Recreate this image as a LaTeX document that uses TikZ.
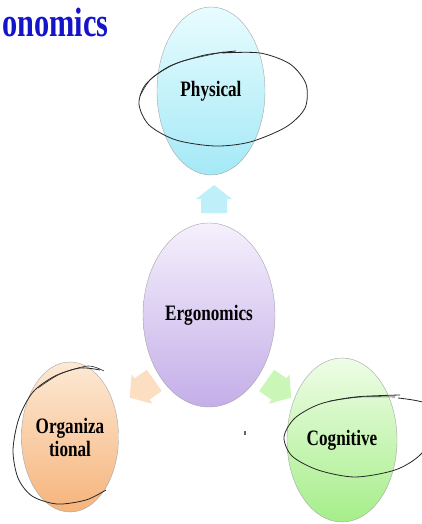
\documentclass[tikz,border=0pt]{standalone}
\usepackage{fontspec}
\setmainfont{Liberation Serif}
\usepackage{tikz}
\usetikzlibrary{shapes.geometric}

\definecolor{titleblue}{HTML}{1414C8}
\definecolor{physTop}{HTML}{E8FCFF}
\definecolor{physBot}{HTML}{A4E9F6}
\definecolor{ergoTop}{HTML}{F5F0FD}
\definecolor{ergoBot}{HTML}{C4AEE8}
\definecolor{orgTop}{HTML}{FDE9D4}
\definecolor{orgBot}{HTML}{F6B47C}
\definecolor{cogTop}{HTML}{EEFDE6}
\definecolor{cogBot}{HTML}{A6EE8A}

\tikzset{
  bubble/.style={ellipse, draw=gray!70, line width=0.4pt, inner sep=0pt,
    font=\bfseries\fontsize{22}{25}\selectfont, align=center},
  scribble/.style={draw=black!85, line width=0.8pt},
}

\begin{document}
\begin{tikzpicture}[x=1pt, y=-1pt]
    \clip (0,0) rectangle (422,524);
    \fill[white] (0,0) rectangle (422,524);

    % heading
    \node[anchor=base west, inner sep=0pt, text=titleblue,
      font=\bfseries\fontsize{41}{44}\selectfont] (title) at (2,37)
      {\scalebox{0.74}[1]{onomics}};

    % arrows from the centre
    \fill[physBot!70, shift={(214,199)}] (0,-14) -- (18,0) -- (13,0) -- (13,14) -- (-13,14) -- (-13,0) -- (-18,0) -- cycle;
    \fill[orgTop!80!orgBot, shift={(142,389)}, rotate=125] (0,-15) -- (18,0) -- (13,0) -- (13,15) -- (-13,15) -- (-13,0) -- (-18,0) -- cycle;
    \fill[cogTop!50!cogBot, shift={(279,389)}, rotate=-125] (0,-15) -- (18,0) -- (13,0) -- (13,15) -- (-13,15) -- (-13,0) -- (-18,0) -- cycle;

    % the four areas
    \node[bubble, top color=physTop, bottom color=physBot,
      minimum width=108pt, minimum height=168pt] (phys) at (211,91)
      {\scalebox{0.78}[1]{Physical}};
    \node[bubble, top color=ergoTop, bottom color=ergoBot,
      minimum width=132pt, minimum height=184pt] (ergo) at (209,315)
      {\scalebox{0.78}[1]{Ergonomics}};
    \node[bubble, top color=orgTop, bottom color=orgBot,
      minimum width=94pt, minimum height=150pt] (org) at (70,437)
      {\scalebox{0.78}[1]{Organiza}\\[-2pt]\scalebox{0.78}[1]{tional}};
    \node[bubble, top color=cogTop, bottom color=cogBot,
      minimum width=110pt, minimum height=164pt] (cog) at (342,440)
      {\scalebox{0.78}[1]{Cognitive}};

    \fill[black!60] (244,431) rectangle (245.5,435);

    % hand drawn loops
    \draw[scribble] plot[smooth] coordinates {(222,53) (260,53) (290,64) (306,84) (305,108)
      (286,127) (250,142) (215,146) (176,140) (149,125) (139,104) (146,84) (170,66) (205,55) (236,51)};
    \draw[scribble, line width=0.6pt] plot[smooth] coordinates {(140,96) (152,78) (180,62) (224,52)};

    \draw[scribble] plot[smooth] coordinates {(398,398) (430,405) (436,430) (420,455) (395,470)
      (355,477) (318,470) (292,456) (284,437) (295,418) (320,404) (355,397) (400,395)};
    \draw[scribble, line width=0.6pt] plot[smooth] coordinates {(330,401) (360,397) (395,397)};

    \draw[scribble] plot[smooth] coordinates {(100,370) (80,368) (55,376) (33,392) (19,418)
      (13,450) (18,478) (32,496) (57,504) (86,500) (106,490)};
    \draw[scribble, line width=0.6pt] plot[smooth] coordinates {(38,388) (60,374) (88,366) (104,371)};
\end{tikzpicture}
\end{document}
